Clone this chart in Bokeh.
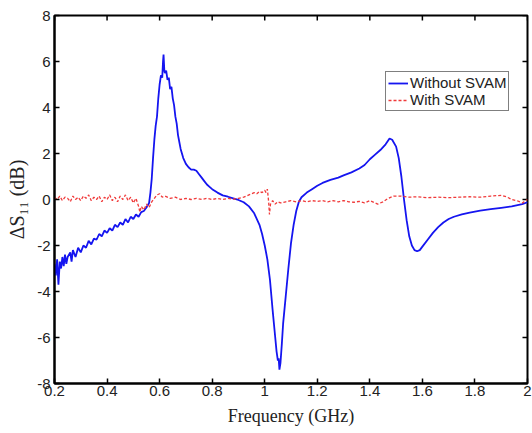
from bokeh.plotting import figure
from bokeh.models import FixedTicker, Legend, LegendItem
from bokeh.embed import file_html
from bokeh.resources import INLINE

# ---- data ----
x_ticks = [0.2, 0.4, 0.6, 0.8, 1.0, 1.2, 1.4, 1.6, 1.8, 2.0]
x_tick_labels = ["0.2", "0.4", "0.6", "0.8", "1", "1.2", "1.4", "1.6", "1.8", "2"]
y_ticks = [-8, -6, -4, -2, 0, 2, 4, 6, 8]
y_tick_labels = ["-8", "-6", "-4", "-2", "0", "2", "4", "6", "8"]

without_x = [0.200, 0.205, 0.210, 0.215, 0.220, 0.225, 0.230, 0.235, 0.240, 0.245,
             0.250, 0.260, 0.265, 0.270, 0.280, 0.290, 0.300, 0.310, 0.320, 0.330,
             0.340, 0.350, 0.360, 0.370, 0.380, 0.390, 0.400, 0.410, 0.420, 0.430,
             0.440, 0.450, 0.460, 0.470, 0.480, 0.490, 0.500, 0.510, 0.520, 0.530,
             0.540, 0.550, 0.560, 0.565, 0.570, 0.575, 0.580, 0.585, 0.590, 0.595,
             0.600, 0.605, 0.610, 0.613, 0.615, 0.618, 0.620, 0.625, 0.630, 0.635,
             0.640, 0.645, 0.650, 0.655, 0.660, 0.665, 0.670, 0.675, 0.680, 0.690,
             0.700, 0.710, 0.720, 0.730, 0.740, 0.750, 0.760, 0.770, 0.780, 0.790,
             0.800, 0.820, 0.840, 0.860, 0.880, 0.900, 0.920, 0.940, 0.960, 0.980,
             0.990, 1.000, 1.010, 1.020, 1.030, 1.040, 1.045, 1.050, 1.053, 1.056,
             1.060, 1.065, 1.070, 1.080, 1.090, 1.100, 1.110, 1.120, 1.130, 1.140,
             1.160, 1.180, 1.200, 1.220, 1.250, 1.280, 1.300, 1.330, 1.360, 1.380,
             1.400, 1.420, 1.440, 1.460, 1.475, 1.485, 1.500, 1.510, 1.520, 1.530,
             1.540, 1.550, 1.560, 1.570, 1.580, 1.590, 1.600, 1.620, 1.640, 1.660,
             1.680, 1.700, 1.720, 1.750, 1.780, 1.820, 1.860, 1.900, 1.940, 1.980,
             2.000]
without_y = [-2.8, -3.3, -2.6, -3.7, -2.7, -3.0, -2.5, -2.9, -2.4, -2.8,
             -2.5, -2.3, -2.7, -2.2, -2.5, -2.1, -2.3, -2.0, -2.1, -1.8,
             -1.95, -1.7, -1.75, -1.5, -1.6, -1.35, -1.45, -1.25, -1.35, -1.1,
             -1.2, -1.0, -1.1, -0.85, -1.0, -0.75, -0.85, -0.65, -0.75, -0.55,
             -0.5, -0.35, -0.15, 0.3, 0.9, 1.8, 2.6, 3.2, 3.6, 4.4,
             5.0, 5.4, 5.3, 6.0, 6.3, 5.6, 5.5, 5.6, 5.2, 5.3,
             4.8, 4.9, 4.4, 4.1, 3.6, 3.3, 2.8, 2.5, 2.2, 1.8,
             1.55, 1.4, 1.3, 1.3, 1.25, 1.1, 0.95, 0.8, 0.65, 0.55,
             0.45, 0.3, 0.18, 0.12, 0.05, -0.02, -0.12, -0.3, -0.6, -1.1,
             -1.5, -2.0, -2.6, -3.5, -4.8, -6.0, -6.6, -7.0, -6.9, -7.4,
             -7.1, -6.3, -5.4, -4.2, -3.0, -1.9, -1.1, -0.5, -0.1, 0.1,
             0.3, 0.45, 0.6, 0.72, 0.85, 0.95, 1.05, 1.18, 1.35, 1.5,
             1.75, 1.95, 2.15, 2.4, 2.65, 2.6, 2.3, 1.8, 1.0, 0.0,
             -0.9, -1.6, -2.0, -2.2, -2.25, -2.2, -2.05, -1.75, -1.45, -1.2,
             -1.0, -0.85, -0.75, -0.65, -0.57, -0.48, -0.42, -0.36, -0.3, -0.2,
             -0.12]

with_x = [0.20, 0.21, 0.22, 0.23, 0.24, 0.25, 0.26, 0.27, 0.28, 0.29,
          0.30, 0.31, 0.32, 0.33, 0.34, 0.35, 0.36, 0.37, 0.38, 0.39,
          0.40, 0.41, 0.42, 0.43, 0.44, 0.45, 0.46, 0.47, 0.48, 0.49,
          0.50, 0.51, 0.52, 0.525, 0.53, 0.54, 0.55, 0.56, 0.57, 0.58,
          0.59, 0.60, 0.61, 0.62, 0.64, 0.66, 0.68, 0.70, 0.72, 0.74,
          0.76, 0.78, 0.80, 0.82, 0.84, 0.86, 0.88, 0.90, 0.92, 0.94,
          0.96, 0.97, 0.98, 0.99, 1.00, 1.005, 1.01, 1.015, 1.018, 1.022,
          1.03, 1.04, 1.05, 1.06, 1.08, 1.10, 1.12, 1.14, 1.16, 1.18,
          1.20, 1.22, 1.24, 1.26, 1.28, 1.30, 1.32, 1.34, 1.36, 1.38,
          1.40, 1.42, 1.43, 1.45, 1.47, 1.49, 1.52, 1.55, 1.58, 1.62,
          1.66, 1.70, 1.74, 1.78, 1.82, 1.86, 1.90, 1.92, 1.94, 1.96,
          1.98, 2.00]
with_y = [0.1, 0.0, 0.15, -0.05, 0.1, 0.05, -0.1, 0.15, 0.0, 0.1,
          -0.05, 0.15, 0.05, 0.2, -0.05, 0.1, 0.0, 0.15, -0.1, 0.1,
          0.0, 0.2, -0.05, 0.1, -0.1, 0.15, 0.0, 0.2, -0.05, 0.1,
          -0.15, 0.05, -0.3, -0.55, -0.3, -0.45, -0.2, -0.35, -0.1, 0.05,
          0.2, 0.25, 0.1, 0.15, 0.05, 0.1, 0.0, 0.05, 0.0, 0.05,
          0.0, 0.05, 0.0, 0.05, 0.0, 0.05, 0.02, 0.05, 0.1, 0.2,
          0.3, 0.25, 0.35, 0.3, 0.4, 0.3, 0.45, -0.1, -0.65, -0.2,
          -0.05, -0.2, -0.1, -0.15, -0.1, -0.05, -0.1, -0.05, -0.1, -0.05,
          -0.08, -0.05, -0.1, -0.05, -0.1, -0.05, -0.1, -0.12, -0.08, -0.15,
          -0.05, -0.15, -0.2, -0.1, 0.05, 0.15, 0.15, 0.1, 0.12, 0.08,
          0.1, 0.08, 0.1, 0.12, 0.1, 0.15, 0.18, 0.12, 0.0, -0.05,
          -0.15, 0.0]

series_names = ["Without SVAM", "With SVAM"]

# ---- figure ----
FRAME_W, FRAME_H = 473, 368
p = figure(width=532, height=433, x_range=(x_ticks[0], x_ticks[-1]),
           y_range=(y_ticks[0], y_ticks[-1]),
           output_backend="svg", toolbar_location=None,
           min_border_left=54, min_border_right=5, min_border_top=15,
           min_border_bottom=50, outline_line_color="#000000",
           outline_line_width=2)
p.grid.visible = False

for ax in [p.xaxis[0], p.yaxis[0]]:
    ax.major_tick_in = 5
    ax.major_tick_out = 0
    ax.axis_line_color = "#000000"
    ax.axis_line_width = 2
    ax.major_tick_line_color = "#000000"
    ax.major_tick_line_width = 1.5
    ax.major_label_text_font = "helvetica"
    ax.major_label_text_font_size = "15px"
    ax.major_label_text_color = "#222222"
    ax.axis_label_text_font = "times"
    ax.axis_label_text_font_style = "normal"
    ax.axis_label_text_color = "#222222"

p.xaxis.ticker = FixedTicker(ticks=x_ticks)
p.xaxis.major_label_overrides = dict(zip(x_ticks, x_tick_labels))
p.xaxis.major_label_standoff = 2
p.xaxis.axis_label = "Frequency (GHz)"
p.xaxis.axis_label_text_font_size = "18px"
p.xaxis.axis_label_standoff = 7

p.yaxis.ticker = FixedTicker(ticks=y_ticks)
p.yaxis.major_label_overrides = dict(zip(y_ticks, y_tick_labels))
p.yaxis.major_label_standoff = 4
p.yaxis.axis_label = "ΔS₁₁ (dB)"
p.yaxis.axis_label_text_font_size = "20px"
p.yaxis.axis_label_standoff = 6

# inward ticks on the top and right edges, placed through the data scales
x0, x1 = x_ticks[0], x_ticks[-1]
y0, y1 = y_ticks[0], y_ticks[-1]
tx = (x1 - x0) / FRAME_W * 5
ty = (y1 - y0) / FRAME_H * 5
nx, ny = len(x_ticks), len(y_ticks)
p.segment(x0=x_ticks, y0=[y1] * nx, x1=x_ticks, y1=[y1 - ty] * nx,
          line_color="#000000", line_width=1.5)
p.segment(x0=[x1] * ny, y0=y_ticks, x1=[x1 - tx] * ny, y1=y_ticks,
          line_color="#000000", line_width=1.5)

r1 = p.line(without_x, without_y, line_color="#1515f0", line_width=1.8)
r2 = p.line(with_x, with_y, line_color="#f03a3a", line_width=1.3, line_dash="3 2")

legend = Legend(items=[LegendItem(label=series_names[0], renderers=[r1]),
                       LegendItem(label=series_names[1], renderers=[r2])],
                location=(331, 272), border_line_color="#000000", border_line_width=1.3,
                background_fill_alpha=1.0, label_text_font="helvetica",
                label_text_font_size="15px", label_text_color="#222222",
                glyph_width=20, glyph_height=16, label_standoff=2, spacing=0,
                padding=2, margin=0, label_height=16)
p.add_layout(legend, "center")

open("out.html", "w").write(file_html(p, INLINE))
